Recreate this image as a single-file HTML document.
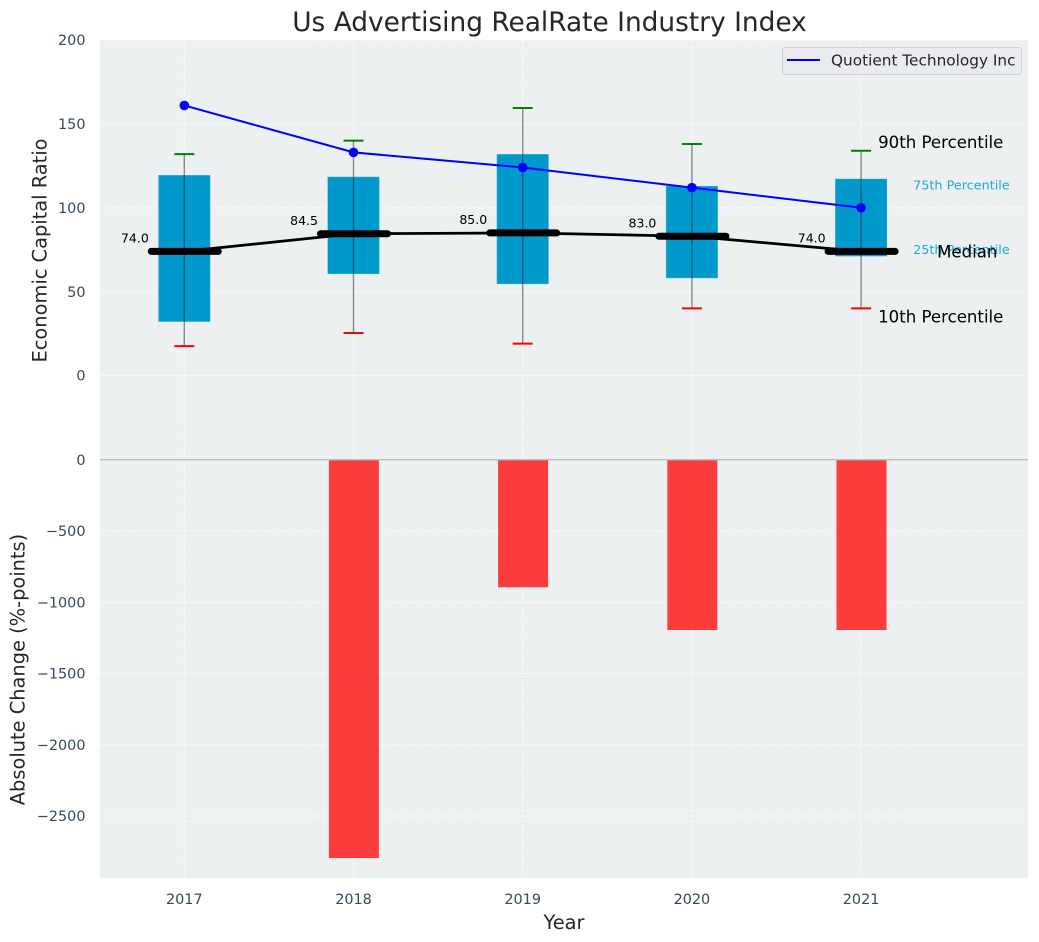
<!DOCTYPE html>
<html lang="en">
<head>
<meta charset="utf-8">
<title>Us Advertising RealRate Industry Index</title>
<style>
html,body{margin:0;padding:0;background:#fff;width:1039px;height:942px;overflow:hidden}
svg{display:block}
text{font-family:"DejaVu Sans","Liberation Sans",sans-serif}
</style>
</head>
<body>
<svg id="chart" width="1039" height="942" viewBox="0 0 1039 942" xmlns="http://www.w3.org/2000/svg">
<rect x="100" y="40" width="928" height="838" fill="#ecf0f1"/>
<g id="grid"></g>
<g id="bars"></g>
<line x1="100" x2="1028" y1="459.7" y2="459.7" stroke="#bdbdbd" stroke-width="1.3"/>
<g id="boxes"></g>
<g id="ticks"></g>
<text x="549.5" y="31" font-size="26.4" fill="#262626" text-anchor="middle">Us Advertising RealRate Industry Index</text>
<text x="564" y="929" font-size="19.4" fill="#262626" text-anchor="middle">Year</text>
<text transform="translate(46.5 250.5) rotate(-90)" font-size="19.4" fill="#262626" text-anchor="middle">Economic Capital Ratio</text>
<text transform="translate(24.5 669.5) rotate(-90)" font-size="19.4" fill="#262626" text-anchor="middle">Absolute Change (%-points)</text>
<g>
<rect x="782.5" y="47.5" width="239" height="27" rx="3" fill="#eaeaf2" stroke="#d0d0d4" stroke-width="1"/>
<line x1="787" x2="820" y1="60" y2="60" stroke="#0000ff" stroke-width="2"/>
<text x="831" y="65.5" font-size="15.3" fill="#262626">Quotient Technology Inc</text>
</g>
</svg>
<script>
const years = [2017, 2018, 2019, 2020, 2021];
const p90 = [132, 140, 159.5, 138, 134];
const p75 = [119.5, 118.5, 132, 113, 117.3];
const medians = [74, 84.5, 85, 83, 74];
const p25 = [32, 60.5, 54.5, 58, 71];
const p10 = [17.5, 25.3, 19, 40, 40];
const company = [161, 133, 124, 112, 100];
const changes = [0, -2795, -895, -1195, -1195];
const topTicks = [200, 150, 100, 50, 0];
const bottomTicks = [0, -500, -1000, -1500, -2000, -2500];

const NS = 'http://www.w3.org/2000/svg';
const xScale = v => 184.3 + (v - 2017) * 169.2;
const yTop = v => 375.5 - v * 1.6775;
const yBottom = v => 459.7 - v * 0.14252;

function make(parent, tag, props, content) {
  const el = document.createElementNS(NS, tag);
  for (const k in props) el.setAttribute(k, props[k]);
  if (content !== undefined) el.textContent = content;
  parent.appendChild(el);
  return el;
}

const grid = document.getElementById('grid');
const gridStyle = {stroke: '#ffffff', 'stroke-width': 1, 'stroke-dasharray': '3.7 1.6', 'stroke-opacity': 0.75};
years.forEach(y => {
  const el = make(grid, 'line', Object.assign({x1: xScale(y), x2: xScale(y), y1: 40, y2: 878}, gridStyle));
  
  
});
topTicks.forEach(v => {
  const el = make(grid, 'line', Object.assign({x1: 100, x2: 1028, y1: yTop(v), y2: yTop(v)}, gridStyle));
  
  
});
bottomTicks.forEach(v => {
  const el = make(grid, 'line', Object.assign({x1: 100, x2: 1028, y1: yBottom(v), y2: yBottom(v)}, gridStyle));
  
  
});

const ticks = document.getElementById('ticks');
const tickStyle = {'font-size': 14.4, fill: '#34495e'};
topTicks.forEach(v => {
  const el = make(ticks, 'text', Object.assign({x: 85.5, y: yTop(v) + 5.2, 'text-anchor': 'end'}, tickStyle), String(v));
  
  
});
bottomTicks.forEach(v => {
  const el = make(ticks, 'text', Object.assign({x: 85.5, y: yBottom(v) + 5.2, 'text-anchor': 'end'}, tickStyle), String(v).replace('-', '\u2212'));
  
  
});
years.forEach(y => {
  const el = make(ticks, 'text', Object.assign({x: xScale(y), y: 904, 'text-anchor': 'middle'}, tickStyle), String(y));
  
  
});

const bars = document.getElementById('bars');
years.forEach((y, i) => {
  const el = make(bars, 'rect', {x: xScale(y) - 24.6, y: yBottom(0), width: 50, height: Math.max(0, yBottom(changes[i]) - yBottom(0)), fill: '#ff0000', 'fill-opacity': 0.75});
  
  
});

const boxes = document.getElementById('boxes');
years.forEach((y, i) => {
  const box = make(boxes, 'rect', {x: xScale(y) - 26, y: yTop(p75[i]), width: 52, height: yTop(p25[i]) - yTop(p75[i]), fill: '#0099cc', stroke: '#ffffff', 'stroke-opacity': 0.25, 'stroke-width': 1});
  
  
  const whisker = make(boxes, 'line', {x1: xScale(y), x2: xScale(y), y1: yTop(p90[i]), y2: yTop(p10[i]), stroke: '#222222', 'stroke-opacity': 0.5, 'stroke-width': 1.4});
  
  
  const capHigh = make(boxes, 'line', {x1: xScale(y) - 10, x2: xScale(y) + 10, y1: yTop(p90[i]), y2: yTop(p90[i]), stroke: '#008000', 'stroke-width': 2});
  
  
  const capLow = make(boxes, 'line', {x1: xScale(y) - 10, x2: xScale(y) + 10, y1: yTop(p10[i]), y2: yTop(p10[i]), stroke: '#ff0000', 'stroke-width': 2});
  
  
});

const medianLine = make(boxes, 'polyline', {points: years.map((y, i) => xScale(y) + ',' + yTop(medians[i])).join(' '), fill: 'none', stroke: '#000000', 'stroke-width': 2.8});


years.forEach((y, i) => {
  const bar = make(boxes, 'line', {x1: xScale(y) - 33, x2: xScale(y) + 34, y1: yTop(medians[i]), y2: yTop(medians[i]), stroke: '#000000', 'stroke-width': 7, 'stroke-linecap': 'round'});
  
  
  const label = make(boxes, 'text', {x: xScale(y) - 35.5, y: yTop(medians[i]) - 9, 'font-size': 12.5, fill: '#000000', 'text-anchor': 'end'}, medians[i].toFixed(1));
  
  
});

const companyLine = make(boxes, 'polyline', {points: years.map((y, i) => xScale(y) + ',' + yTop(company[i])).join(' '), fill: 'none', stroke: '#0000ff', 'stroke-width': 2});


years.forEach((y, i) => {
  const dot = make(boxes, 'circle', {cx: xScale(y), cy: yTop(company[i]), r: 4.8, fill: '#0000ff'});
  
  
});

const last = years.length - 1;
const lastX = xScale(years[last]);
const a90 = make(boxes, 'text', {x: lastX + 17, y: yTop(p90[last]) - 2.5, 'font-size': 16.6, fill: '#000000'}, '90th Percentile');


const a10 = make(boxes, 'text', {x: lastX + 17, y: yTop(p10[last]) + 14, 'font-size': 16.6, fill: '#000000'}, '10th Percentile');


const a75 = make(boxes, 'text', {x: lastX + 52, y: yTop(p75[last]) + 11, 'font-size': 12.8, fill: '#0099cc', 'fill-opacity': 0.85}, '75th Percentile');


const a25 = make(boxes, 'text', {x: lastX + 52, y: yTop(p25[last]) - 2.5, 'font-size': 12.8, fill: '#0099cc', 'fill-opacity': 0.85}, '25th Percentile');


const aMed = make(boxes, 'text', {x: lastX + 76, y: yTop(medians[last]) + 6, 'font-size': 16.6, fill: '#000000'}, 'Median');


</script>
</body>
</html>
